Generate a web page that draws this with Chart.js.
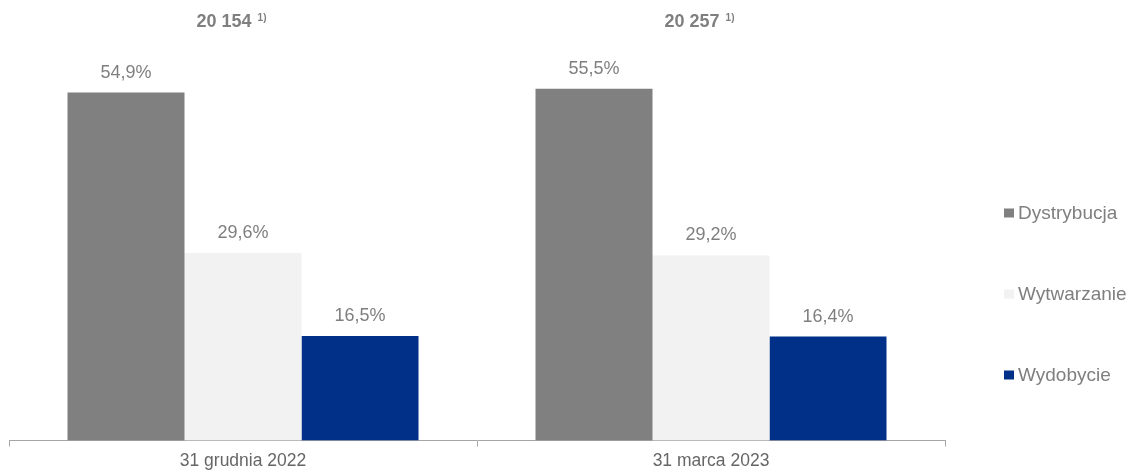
<!DOCTYPE html>
<html>
<head>
<meta charset="utf-8">
<script src="https://cdn.jsdelivr.net/npm/chart.js@4"></script>
<style>
  html, body { margin: 0; padding: 0; background: #fff; }
  #wrap { width: 1131px; height: 473px; }
</style>
</head>
<body>
<div id="wrap"><canvas id="chart"></canvas></div>
<script>
const categories = ['31 grudnia 2022', '31 marca 2023'];
const seriesNames = ['Dystrybucja', 'Wytwarzanie', 'Wydobycie'];
const dystrybucja = [54.9, 55.5];
const wytwarzanie = [29.6, 29.2];
const wydobycie = [16.5, 16.4];
const totals = ['20 154', '20 257'];
const totalNote = '1)';
const colors = ['#808080', '#f2f2f2', '#003087'];

const fmt = v => v.toFixed(1).replace('.', ',') + '%';

// values above bars, totals above each group, legend on the right
const labelsPlugin = {
    id: 'labels',
    afterDatasetsDraw(chart) {
        const ctx = chart.ctx;
        ctx.save();
        ctx.font = '18px "Liberation Sans", Arial, sans-serif';
        ctx.fillStyle = '#7f7f7f';
        ctx.textAlign = 'center';
        ctx.textBaseline = 'alphabetic';
        chart.data.datasets.forEach((ds, i) => {
            chart.getDatasetMeta(i).data.forEach((bar, j) => {
                ctx.fillText(fmt(ds.data[j]), bar.x, bar.y - 15);
            });
        });

        const xScale = chart.scales.x;
        totals.forEach((t, j) => {
            const cx = xScale.getPixelForValue(j) - 12;
            ctx.font = 'bold 18px "Liberation Sans", Arial, sans-serif';
            const w1 = ctx.measureText(t + ' ').width;
            ctx.font = 'bold 10px "Liberation Sans", Arial, sans-serif';
            const w2 = ctx.measureText(totalNote).width;
            const left = cx - (w1 + w2) / 2;
            ctx.textAlign = 'left';
            ctx.font = 'bold 18px "Liberation Sans", Arial, sans-serif';
            ctx.fillText(t, left, 27);
            ctx.font = 'bold 10px "Liberation Sans", Arial, sans-serif';
            ctx.fillText(totalNote, left + w1 + 1, 21);
        });

        ctx.font = '19px "Liberation Sans", Arial, sans-serif';
        ctx.textBaseline = 'middle';
        ctx.textAlign = 'left';
        const lx = chart.chartArea.right + 59;
        chart.data.datasets.forEach((ds, i) => {
            const cy = 213 + i * 81;
            ctx.fillStyle = ds.backgroundColor;
            ctx.fillRect(lx, cy - 4.5, 10, 9);
            ctx.fillStyle = '#7f7f7f';
            ctx.fillText(ds.label, lx + 14, cy + 1);
        });
        ctx.restore();
    }
};

new Chart(document.getElementById('chart'), {
    type: 'bar',
    data: {
        labels: categories,
        datasets: [
            { label: seriesNames[0], data: dystrybucja, backgroundColor: colors[0] },
            { label: seriesNames[1], data: wytwarzanie, backgroundColor: colors[1] },
            { label: seriesNames[2], data: wydobycie, backgroundColor: colors[2] }
        ]
    },
    plugins: [labelsPlugin],
    options: {
        responsive: true,
        maintainAspectRatio: false,
        animation: false,
        layout: { padding: { left: 9, right: 186, top: 0, bottom: 0 } },
        datasets: { bar: { categoryPercentage: 0.75, barPercentage: 1.0 } },
        plugins: {
            legend: { display: false },
            tooltip: { enabled: false }
        },
        scales: {
            x: {
                afterFit: scale => { scale.height = 32.5; },
                grid: {
                    drawOnChartArea: false,
                    drawTicks: true,
                    tickLength: 6,
                    color: '#a6a6a6'
                },
                border: { color: '#a6a6a6', width: 1 },
                ticks: {
                    color: '#666666',
                    padding: 4,
                    font: { family: '"Liberation Sans", Arial, sans-serif', size: 17.5 }
                }
            },
            y: {
                display: false,
                min: 0,
                max: 69.5
            }
        }
    }
});
</script>
</body>
</html>
